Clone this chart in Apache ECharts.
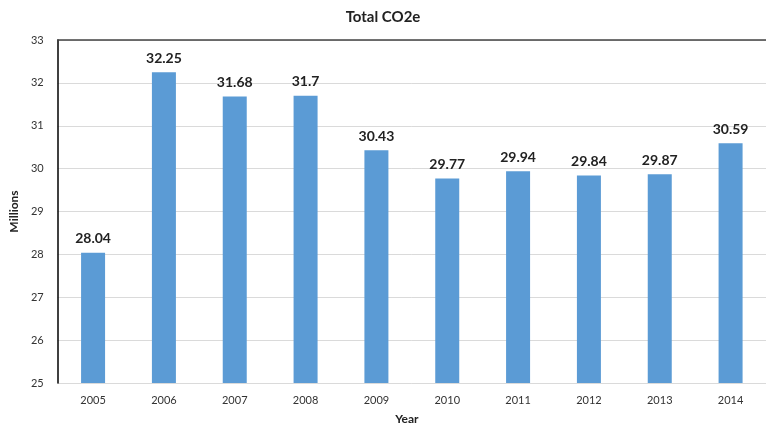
<!DOCTYPE html>
<html>
<head>
<meta charset="utf-8">
<script src="https://cdn.jsdelivr.net/npm/echarts@6/dist/echarts.min.js"></script>
<style>
  html, body { margin: 0; padding: 0; background: #fff; }
  #chart { width: 766px; height: 431px; }
</style>
</head>
<body>
<div id="chart"></div>
<script>
// Annual total CO2e emissions, in millions
const years = ['2005', '2006', '2007', '2008', '2009', '2010', '2011', '2012', '2013', '2014'];
const totals = [28.04, 32.25, 31.68, 31.7, 30.43, 29.77, 29.94, 29.84, 29.87, 30.59];
const yMin = 25;
const yMax = 33;
const yStep = 1;

const font = 'Lato, "Open Sans", sans-serif';
const chart = echarts.init(document.getElementById('chart'));

chart.setOption({
  animation: false,
  title: {
    text: 'Total CO2e',
    left: 'center',
    top: 5,
    textStyle: { fontFamily: font, fontSize: 15, fontWeight: 'bold', color: '#222' }
  },
  grid: { left: 53, right: -7, top: 40, bottom: 48 },
  xAxis: [
    {
      type: 'category',
      data: years,
      name: 'Year',
      nameLocation: 'middle',
      nameGap: 30,
      nameTextStyle: { fontFamily: font, fontSize: 12, fontWeight: 'bold', color: '#222', padding: [0, 0, 0, -10] },
      axisLine: { show: false, onZero: false },
      axisTick: { show: false },
      axisLabel: { fontFamily: font, fontSize: 11, color: '#333', margin: 12 }
    },
    {
      // thin dark rule along the top of the plot
      type: 'category',
      data: years,
      position: 'top',
      axisLine: { show: true, onZero: false, lineStyle: { color: '#444', width: 1.5 } },
      axisTick: { show: false },
      axisLabel: { show: false }
    }
  ],
  yAxis: {
    type: 'value',
    min: yMin,
    max: yMax,
    interval: yStep,
    name: 'Millions',
    nameLocation: 'middle',
    nameGap: 35,
    nameTextStyle: { fontFamily: font, fontSize: 12, fontWeight: 'bold', color: '#222' },
    axisLine: { show: true, lineStyle: { color: '#000', width: 1.5 } },
    axisTick: { show: false },
    axisLabel: { fontFamily: font, fontSize: 11, color: '#333', margin: 14 },
    splitLine: { show: true, lineStyle: { color: '#dadada', width: 1 } }
  },
  series: [{
    type: 'bar',
    data: totals,
    barWidth: 24,
    itemStyle: { color: '#5B9BD5' },
    label: {
      show: true,
      position: 'top',
      distance: 7,
      fontFamily: font,
      fontSize: 14,
      fontWeight: 'bold',
      color: '#222'
    }
  }]
});
</script>
</body>
</html>
